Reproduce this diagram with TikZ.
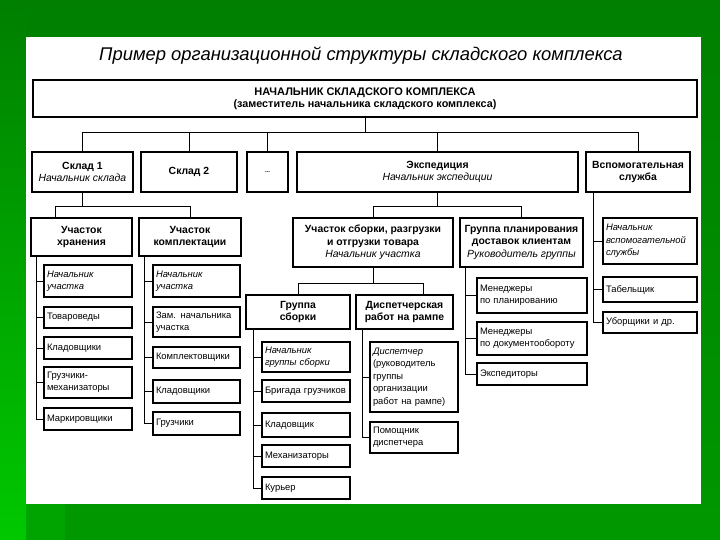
\documentclass[tikz,border=0pt]{standalone}
\usepackage{fontspec}
\setmainfont{Liberation Sans}
\usetikzlibrary{positioning,calc}
\definecolor{slidetop}{HTML}{007F00}
\definecolor{slidebot}{HTML}{009800}
\definecolor{stripbot}{HTML}{00C800}
\definecolor{cornergreen}{HTML}{00A400}

\begin{document}
\begin{tikzpicture}[x=1pt, y=-1pt,
  box/.style={draw, line width=1.3pt, inner sep=2pt, outer sep=0pt, anchor=north west,
    align=center, font=\fontsize{10.4}{12.6}\selectfont\bfseries},
  item/.style={box, align=left, inner xsep=3pt, text width=#1,
    font=\fontsize{9.4}{12.4}\selectfont},
  note/.style={item=#1, font=\fontsize{9.4}{12.4}\selectfont\itshape},
  link/.style={line width=1pt}
]
  \useasboundingbox (0,0) rectangle (720,540);
  % Slide background
  \shade[top color=slidetop, bottom color=slidebot] (0,0) rectangle (720,540);
  \shade[top color=slidetop, bottom color=stripbot] (0,0) rectangle (26,540);
  \fill[cornergreen] (26,504) rectangle (65,540);
  \fill[white] (26,37) rectangle (701,504);

  % Title
  \node[font=\fontsize{18.4}{21}\selectfont\itshape] (title) at (361,56)
    {Пример организационной структуры складского комплекса};

  % Head of the complex
  \node[box, minimum width=664pt, minimum height=37pt] (top) at (33,80)
    {{\fontsize{11}{12}\selectfont НАЧАЛЬНИК СКЛАДСКОГО КОМПЛЕКСА}\\[-1pt]
     {\fontsize{10.8}{12}\selectfont(заместитель начальника складского комплекса)}};

  % Second level
  \node[box, minimum width=101pt, minimum height=40pt] (sk1) at (32,152)
    {Склад 1\\\textit{\mdseries Начальник склада}};
  \node[box, minimum width=96pt, minimum height=40pt] (sk2) at (141,152) {Склад 2};
  \node[box, minimum width=41pt, minimum height=40pt] (dots) at (247,152) {\fontsize{6}{7}\selectfont...};
  \node[box, minimum width=281pt, minimum height=40pt] (exp) at (297,152)
    {Экспедиция\\\textit{\mdseries Начальник экспедиции}};
  \node[box, minimum width=104pt, minimum height=40pt] (aux) at (586,152)
    {Вспомогательная\\служба};

  \coordinate (bus1) at (0,133);
  \draw[link] (top.south) -- (top.south |- bus1);
  \foreach \n in {sk1,sk2,dots,exp,aux}
    \draw[link] (\n.north) |- (top.south |- bus1);

  % Third level
  \node[box, minimum width=101pt, minimum height=38pt] (uh) at (31,218) {Участок\\хранения};
  \node[box, minimum width=102pt, minimum height=38pt] (uk) at (139,218) {Участок\\комплектации};
  \node[box, minimum width=160pt, minimum height=49pt] (us) at (293,218)
    {Участок сборки, разгрузки\\и отгрузки товара\\\textit{\mdseries Начальник участка}};
  \node[box, minimum width=123pt, minimum height=49pt] (gp) at (460,218)
    {Группа планирования\\доставок клиентам\\\textit{\mdseries Руководитель группы}};
  \node[note=88pt, minimum height=46pt] (na) at (603,218)
    {Начальник\\вспомогательной\\службы};

  \coordinate (bus2) at (0,207);
  \draw[link] (sk1.south) -- (sk1.south |- bus2);
  \draw[link] ($(uh.north west)+(24,0)$) |- (sk1.south |- bus2);
  \draw[link] (uk.north) |- (sk1.south |- bus2);
  \draw[link] (exp.south) -- (exp.south |- bus2);
  \draw[link] (us.north) |- (exp.south |- bus2);
  \draw[link] (gp.north) |- (exp.south |- bus2);

  % Storage section staff
  \foreach \i/\y/\h/\txt in {2/307/21/Товароведы, 3/337/22/Кладовщики,
      4/367/31/{Грузчики-\\механизаторы}, 5/408/22/Маркировщики}
    \node[item=82pt, minimum height=\h pt] (h\i) at (44,\y) {\txt};
  \node[note=82pt, minimum height=32pt] (h1) at (44,265) {Начальник\\участка};
  \foreach \i in {1,...,5}
    \draw[link] ($(uh.south west)+(5,0)$) |- (h\i.west);

  % Picking section staff
  \foreach \i/\y/\h/\txt in {2/307/30/{Зам. начальника\\участка}, 3/347/21/Комплектовщики,
      4/380/23/Кладовщики, 5/412/23/Грузчики}
    \node[item=81pt, minimum height=\h pt] (k\i) at (153,\y) {\txt};
  \node[note=81pt, minimum height=32pt] (k1) at (153,265) {Начальник\\участка};
  \foreach \i in {1,...,5}
    \draw[link] ($(uk.south west)+(5,0)$) |- (k\i.west);

  % Assembly and ramp groups
  \node[box, minimum width=104pt, minimum height=34pt] (gs) at (246,295) {Группа\\сборки};
  \node[box, minimum width=97pt, minimum height=34pt] (dr) at (356,295) {Диспетчерская\\работ на рампе};
  \coordinate (bus3) at (0,283);
  \draw[link] (us.south) -- (us.south |- bus3);
  \draw[link] (gs.north) |- (us.south |- bus3);
  \draw[link] ($(dr.north east)+(-30,0)$) |- (us.south |- bus3);

  \foreach \i/\y/\h/\txt in {2/380/22/Бригада грузчиков, 3/413/24/Кладовщик,
      4/445/22/Механизаторы, 5/477/22/Курьер}
    \node[item=82pt, minimum height=\h pt] (s\i) at (262,\y) {\txt};
  \node[note=82pt, minimum height=30pt] (s1) at (262,342) {Начальник\\группы сборки};
  \foreach \i in {1,...,5}
    \draw[link] ($(gs.south west)+(7,0)$) |- (s\i.west);

  \node[item=82pt, minimum height=70pt] (d1) at (370,342)
    {\textit{Диспетчер}\\(руководитель\\группы\\организации\\работ на рампе)};
  \node[item=82pt, minimum height=31pt] (d2) at (370,422) {Помощник\\диспетчера};
  \foreach \i in {1,2}
    \draw[link] ($(dr.south west)+(6,0)$) |- (d\i.west);

  % Planning group staff
  \foreach \i/\y/\h/\txt in {1/278/35/{Менеджеры\\по планированию}, 2/322/33/{Менеджеры\\по документообороту},
      3/363/22/Экспедиторы}
    \node[item=104pt, minimum height=\h pt] (p\i) at (477,\y) {\txt};
  \foreach \i in {1,...,3}
    \draw[link] ($(gp.south west)+(5,0)$) |- (p\i.west);

  % Auxiliary service staff
  \node[item=88pt, minimum height=25pt] (a1) at (603,277) {Табельщик};
  \node[item=88pt, minimum height=21pt] (a2) at (603,312) {Уборщики и др.};
  \foreach \n in {na,a1,a2}
    \draw[link] ($(aux.south west)+(7,0)$) |- (\n.west);
\end{tikzpicture}
\end{document}
